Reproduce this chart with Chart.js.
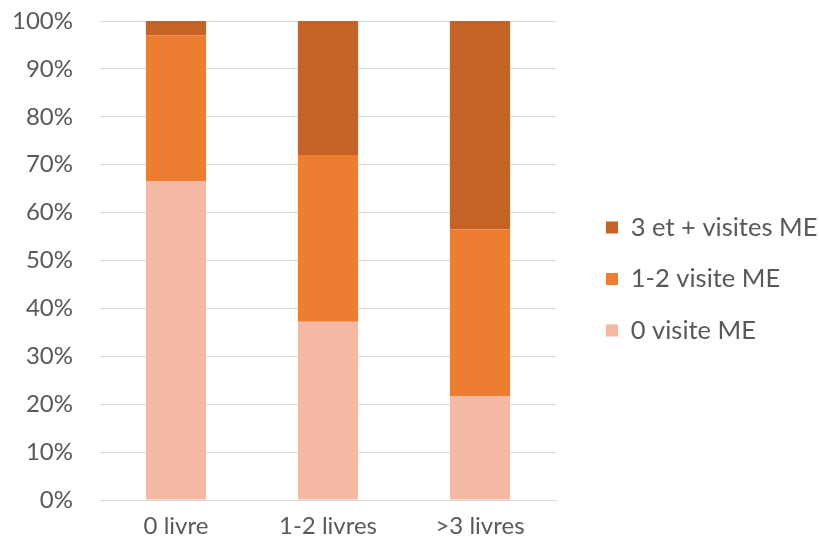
<!DOCTYPE html>
<html><head><meta charset="utf-8">
<script src="https://cdn.jsdelivr.net/npm/chart.js@4"></script>
<style>html,body{margin:0;padding:0;background:#fff}#wrap{width:819px;height:546px}</style>
</head><body><div id="wrap"><canvas id="c" width="819" height="546"></canvas></div>
<script>
const categories = ["0 livre", "1-2 livres", ">3 livres"];
const zeroVisite = [66.6, 37.2, 21.7];
const unDeuxVisites = [30.4, 34.8, 34.8];
const troisPlusVisites = [3.0, 28.0, 43.5];
const yTicks = [0,10,20,30,40,50,60,70,80,90,100];

const FONT = "Lato";
const legendShift = {
  id: 'legendShift',
  afterLayout(chart) {
    const lg = chart.legend;
    if (!lg) return;
    const dx = 606 - 26 - lg.left;
    lg.left += dx;
    lg.right = chart.width;
    lg.width = lg.right - lg.left;
    lg.top -= 2; lg.bottom -= 2;
    if (lg.legendHitBoxes) lg.legendHitBoxes.forEach(b => { b.left += dx; b.top -= 2; });
  }
};
new Chart(document.getElementById('c'), {
  type: 'bar',
  data: {
    labels: categories,
    datasets: [
      {label: "0 visite ME", data: zeroVisite, backgroundColor: "#F4B8A3"},
      {label: "1-2 visite ME", data: unDeuxVisites, backgroundColor: "#ED7D31"},
      {label: "3 et + visites ME", data: troisPlusVisites, backgroundColor: "#C46325"}
    ]
  },
  plugins: [legendShift],
  options: {
    responsive: false,
    animation: false,
    layout: {padding: {top: 21, left: 13, right: 82, bottom: 5}},
    datasets: {bar: {categoryPercentage: 1, barPercentage: 0.396, borderWidth: 0}},
    plugins: {
      tooltip: {enabled: false},
      legend: {
        position: 'right',
        reverse: true,
        labels: {boxWidth: 12, boxHeight: 12, padding: 26, color: "#595959",
                 font: {family: FONT, size: 25.5}}
      }
    },
    scales: {
      x: {stacked: true,
          grid: {display: false, drawTicks: false},
          border: {display: true, color: "#d9d9d9", width: 1},
          afterFit: a => { a.paddingLeft = 0; a.paddingRight = 0; a.height = 41; },
          ticks: {color: "#595959", font: {family: FONT, size: 24}, padding: 12}},
      y: {stacked: true, min: 0, max: 100,
          afterBuildTicks: (axis) => { axis.ticks = yTicks.map(v => ({value: v})); },
          afterFit: a => { a.paddingTop = 0; a.paddingBottom = 0; a.width = 87; },
          grid: {color: "#d9d9d9", drawTicks: false},
          border: {display: false},
          ticks: {color: "#595959", font: {family: FONT, size: 24}, padding: 27,
                  callback: v => v + "%"}}
    }
  }
});
</script></body></html>
